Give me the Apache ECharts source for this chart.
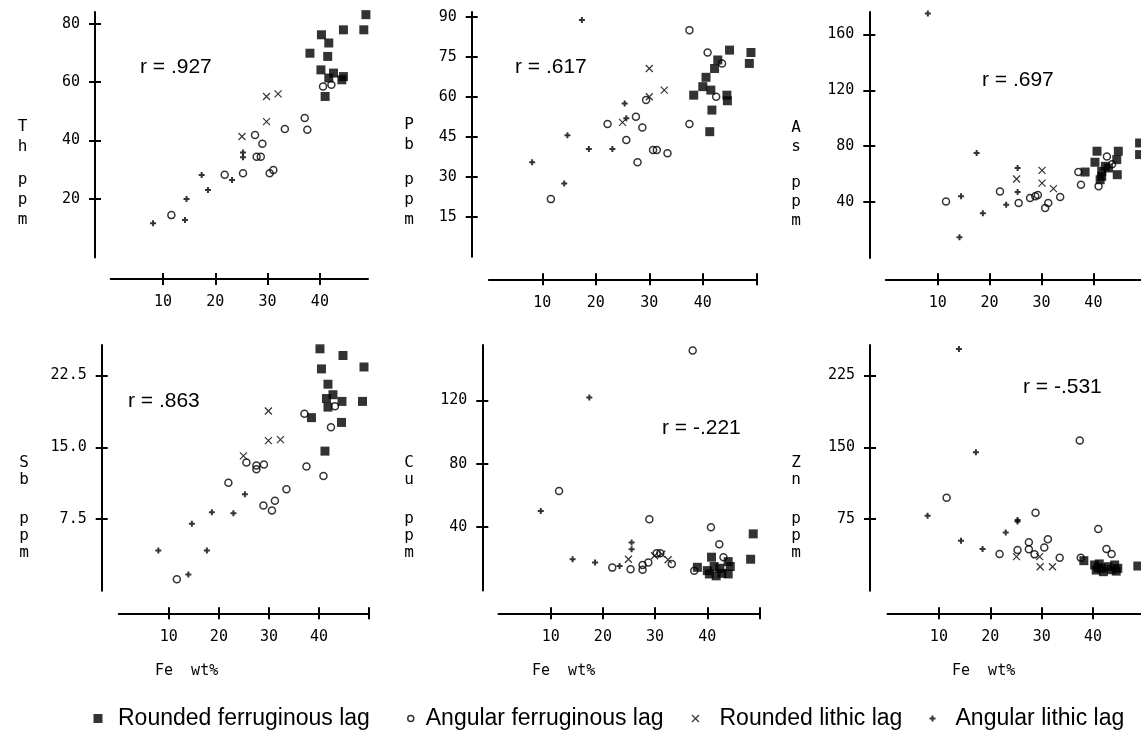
<!DOCTYPE html>
<html><head><meta charset="utf-8">
<script src="https://cdn.jsdelivr.net/npm/echarts@6.0.0/dist/echarts.min.js"></script>
<style>html,body{margin:0;padding:0;background:#fff}#c{width:1141px;height:735px}</style>
</head><body><div id="c"></div>
<script>
// ---------------- DATA ----------------
const seriesNames = ['Rounded ferruginous lag', 'Angular ferruginous lag', 'Rounded lithic lag', 'Angular lithic lag'];
const elementLetters = [['T', 'h'], ['P', 'b'], ['A', 's'], ['S', 'b'], ['C', 'u'], ['Z', 'n']];
const rLabels = ['r = .927', 'r = .617', 'r = .697', 'r = .863', 'r = -.221', 'r = -.531'];
const xAxisTitle = 'Fe  wt%';
const xLabelValues = [10, 20, 30, 40];
const xTickValues = [[10, 20, 30, 40], [10, 20, 30, 40, 50], [10, 20, 30, 40, 50], [10, 20, 30, 40, 50], [10, 20, 30, 40, 50], [10, 20, 30, 40, 50]];
const xMax = [49.2, 50, 50, 50, 50, 50];
const yTickValues = [[20, 40, 60, 80], [15, 30, 45, 60, 75, 90], [40, 80, 120, 160], [7.5, 15, 22.5], [40, 80, 120], [75, 150, 225]];
const yMax = [84, 91.8, 176, 25.7, 155, 257];

// Th ppm vs Fe wt%
const thRF = [[48.8,83.1],[48.4,77.9],[44.5,77.9],[40.3,76.2],[41.7,73.4],[38.1,69.9],[41.5,68.8],[40.2,64.2],[42.6,63.1],[44.5,61.9],[44.2,60.8],[41.7,61.4],[41.0,55.1]];
const thAF = [[40.6,58.5],[42.2,59.1],[37.1,47.7],[37.6,43.7],[33.3,44.0],[27.6,41.9],[29.0,38.9],[27.9,34.5],[28.7,34.5],[25.3,28.8],[21.8,28.3],[30.4,28.8],[31.1,29.9],[11.6,14.5]];
const thRL = [[29.8,55.1],[32.0,56.0],[29.8,46.5],[25.1,41.4]];
const thAL = [[8.1,11.7],[14.5,20],[14.2,12.8],[17.4,28.2],[18.6,23.1],[23.2,26.5],[25.3,35.9],[25.3,34.3]];
// Pb ppm
const pbRF = [[45.0,77.5],[49.0,76.6],[48.7,72.5],[42.8,73.8],[42.2,70.6],[40.6,67.3],[40.0,63.8],[41.5,62.5],[38.3,60.6],[44.5,60.6],[44.6,58.5],[41.7,55.0],[41.3,46.9]];
const pbAF = [[37.5,85],[40.9,76.6],[43.6,72.5],[42.5,60],[37.5,49.8],[29.4,58.8],[27.5,52.5],[28.7,48.5],[22.2,49.8],[25.7,43.8],[27.8,35.4],[30.7,40],[31.4,40],[33.4,38.8],[11.6,21.6]];
const pbRL = [[30.0,70.6],[30.0,60],[32.8,62.5],[25.0,50.4]];
const pbAL = [[17.4,88.8],[8.1,35.4],[14.1,27.5],[14.7,45.6],[18.7,40.4],[23.1,40.4],[25.4,57.5],[25.7,51.9]];
// As ppm
const asRF = [[40.7,76.4],[40.3,68.5],[44.8,76.4],[44.5,70.4],[44.6,59.6],[38.4,61.5],[41.6,62],[42.3,65.6],[42.9,64.4],[41.3,56],[41.6,58.4],[48.9,82.3],[48.9,74]];
const asAF = [[11.6,40.4],[22,47.6],[25.6,39.3],[27.8,42.9],[28.8,44.1],[29.3,45],[30.7,35.7],[31.3,39.3],[33.6,43.6],[37.1,61.5],[37.6,52.4],[41,51.3],[42.6,72.7],[43.6,67]];
const asRL = [[25.2,56.5],[30.1,62.7],[30.1,53.6],[32.3,49.6]];
const asAL = [[8.1,175],[14.5,44.1],[14.2,14.9],[17.5,75.1],[18.7,32.1],[23.2,38.1],[25.4,64.4],[25.4,47.2]];
// Sb ppm
const sbRF = [[40.2,25.3],[44.8,24.6],[49.0,23.4],[40.5,23.2],[41.8,21.6],[42.8,20.5],[41.5,20.1],[44.6,19.8],[48.7,19.8],[41.8,19.2],[38.5,18.1],[44.5,17.6],[41.2,14.6]];
const sbAF = [[43.2,19.3],[37.1,18.5],[42.4,17.1],[37.5,13.0],[40.9,12.0],[25.5,13.4],[27.5,13.1],[27.5,12.7],[29.0,13.2],[21.9,11.3],[33.5,10.6],[31.2,9.4],[28.9,8.9],[30.6,8.4],[11.6,1.2]];
const sbRL = [[29.9,18.8],[29.9,15.7],[32.3,15.8],[24.9,14.1]];
const sbAL = [[7.9,4.2],[14.6,7.0],[13.9,1.7],[17.6,4.2],[18.6,8.2],[22.9,8.1],[25.2,10.1]];
// Cu ppm
const cuRF = [[48.8,35.8],[48.3,19.8],[38.1,14.7],[40.8,21.1],[40.0,12.6],[41.3,15.2],[42.4,14.1],[41.7,9.3],[40.4,10.5],[44.0,18.3],[44.4,15.2],[44.0,10.5],[42.8,10.9]];
const cuAF = [[37.2,151.6],[11.6,62.9],[28.9,45.1],[40.7,40],[42.3,29.3],[43.1,21],[37.5,12.6],[25.3,13.5],[27.6,16.2],[27.6,13.1],[28.7,17.7],[30.3,23.6],[31.0,23.6],[33.2,16.8],[21.8,14.5]];
const cuRL = [[24.9,19.8],[29.9,22],[31.3,23],[32.5,19.5]];
const cuAL = [[8.1,50.3],[14.2,19.8],[17.4,121.9],[18.5,17.7],[23.2,15.6],[25.5,30.3],[25.5,26.1]];
// Zn ppm
const znRF = [[38.2,31.4],[40.3,26.9],[41.6,23.4],[42.9,25.1],[44.2,26.9],[44.8,23.4],[40.6,21.6],[42.0,19.9],[48.7,25.8],[41.2,28],[43.5,22],[44.5,20.5],[41.0,24]];
const znAF = [[37.4,157],[11.5,97.3],[28.8,81.6],[41.0,64.5],[21.8,38.4],[25.3,42.6],[27.5,50.6],[27.5,43.3],[28.6,38],[31.2,53.7],[30.5,45.3],[33.5,34.5],[37.6,34.5],[42.6,43.6],[43.6,38.4]];
const znRL = [[25.1,35.6],[29.6,35.6],[29.7,25.1],[32.1,25.1]];
const znAL = [[13.9,252.9],[7.8,78.5],[17.2,144.8],[14.3,52.3],[18.5,43.6],[23.0,61.0],[25.3,73.9],[25.3,72.5]];

const panelData = [
  [thRF, thAF, thRL, thAL],
  [pbRF, pbAF, pbRL, pbAL],
  [asRF, asAF, asRL, asAL],
  [sbRF, sbAF, sbRL, sbAL],
  [cuRF, cuAF, cuRL, cuAL],
  [znRF, znAF, znRL, znAL]
];

// ---------------- LAYOUT / STYLE ----------------
const panels = [
  {gl:110.7, gt:12,  gw:257.3, gh:245.5, ox:21.5, oy:15.7, rx:140,  ry:67,  nx:22.5, n1:127, n2:180, lh:20},
  {gl:488.8, gt:12,  gw:267.5, gh:244.7, ox:22.6, oy:17.1, rx:515,  ry:67,  nx:409,  n1:125, n2:180, lh:20},
  {gl:885.8, gt:12,  gw:259.5, gh:246,   ox:21.3, oy:16.5, rx:982,  ry:80,  nx:796,  n1:128, n2:183, lh:19},
  {gl:118.8, gt:345, gw:250.2, gh:245.7, ox:22.6, oy:17.1, rx:128,  ry:401, nx:24,   n1:463, n2:519, lh:17},
  {gl:498.5, gt:345, gw:261,   gh:245.6, ox:22.7, oy:16.2, rx:662,  ry:428, nx:409,  n1:463, n2:519, lh:17},
  {gl:887.5, gt:345, gw:257,   gh:245.7, ox:22.6, oy:17.5, rx:1023, ry:387, nx:796,  n1:463, n2:519, lh:17}
];
const feTitlePos = [[155, 671], [532, 671], [952, 671]];

const MONO = '"DejaVu Sans Mono", "Liberation Mono", monospace';
const SANS = '"Liberation Sans", Arial, sans-serif';
const INK = '#000';

const symbolStyles = [
  {symbol: 'rect', symbolSize: 9, itemStyle: {color: INK}},
  {symbol: 'circle', symbolSize: 7, itemStyle: {color: 'rgba(255,255,255,0)', borderColor: INK, borderWidth: 1.5}},
  {symbol: 'path://M0,0L10,10M10,0L0,10', symbolSize: 7, itemStyle: {color: 'none', borderColor: INK, borderWidth: 1.2}},
  {symbol: 'path://M5,0L5,10M0,5L10,5', symbolSize: 6, itemStyle: {color: 'none', borderColor: INK, borderWidth: 2}}
];

const grids = [], xAxes = [], yAxes = [], series = [], graphics = [];
panels.forEach((p, i) => {
  grids.push({left: p.gl, top: p.gt, width: p.gw, height: p.gh, containLabel: false, outerBoundsMode: 'none'});
  const lineStyle = {color: INK, width: 2};
  const fmt = i === 3 ? (v => Number(v).toFixed(1)) : (v => String(v));
  // main x axis (line, outward ticks, labels)
  xAxes.push({
    gridIndex: i, type: 'value', min: 0, max: xMax[i], position: 'bottom', offset: p.ox,
    axisLine: {show: true, onZero: false, lineStyle},
    axisTick: {show: true, inside: false, length: 6, lineStyle, customValues: xTickValues[i]},
    axisLabel: {show: true, customValues: xLabelValues, margin: 16, fontFamily: MONO, fontSize: 15, color: INK},
    splitLine: {show: false}
  });
  // companion x axis (inward ticks) -> crossing ticks
  xAxes.push({
    gridIndex: i, type: 'value', min: 0, max: xMax[i], position: 'bottom', offset: p.ox,
    axisLine: {show: false, onZero: false},
    axisTick: {show: true, inside: true, length: 6, lineStyle, customValues: xTickValues[i]},
    axisLabel: {show: false}, splitLine: {show: false}
  });
  yAxes.push({
    gridIndex: i, type: 'value', min: 0, max: yMax[i], position: 'left', offset: p.oy,
    axisLine: {show: true, onZero: false, lineStyle},
    axisTick: {show: true, inside: false, length: 6, lineStyle, customValues: yTickValues[i]},
    axisLabel: {show: true, customValues: yTickValues[i], formatter: fmt, margin: 15, fontFamily: MONO, fontSize: 15, color: INK},
    splitLine: {show: false}
  });
  yAxes.push({
    gridIndex: i, type: 'value', min: 0, max: yMax[i], position: 'left', offset: p.oy,
    axisLine: {show: false, onZero: false},
    axisTick: {show: true, inside: true, length: 6, lineStyle, customValues: yTickValues[i]},
    axisLabel: {show: false}, splitLine: {show: false}
  });
  panelData[i].forEach((d, s) => {
    series.push(Object.assign({
      type: 'scatter', name: seriesNames[s], xAxisIndex: 2 * i, yAxisIndex: 2 * i,
      data: d, animation: false, silent: true, clip: false
    }, JSON.parse(JSON.stringify(symbolStyles[s]))));
  });
  // correlation label
  graphics.push({type: 'text', x: p.rx, y: p.ry, silent: true,
    style: {text: rLabels[i], font: '21px ' + SANS, fill: INK, align: 'left', verticalAlign: 'middle', textAlign: 'left', textVerticalAlign: 'middle'}});
  // vertical y-axis name: element symbol, then "ppm"
  graphics.push({type: 'text', x: p.nx, y: p.n1 - p.lh / 2, silent: true,
    style: {text: elementLetters[i].join('\n'), font: '16px ' + MONO, lineHeight: p.lh, fill: INK, align: 'center', verticalAlign: 'top', textAlign: 'center', textVerticalAlign: 'top'}});
  graphics.push({type: 'text', x: p.nx, y: p.n2 - p.lh / 2, silent: true,
    style: {text: 'p\np\nm', font: '16px ' + MONO, lineHeight: p.lh, fill: INK, align: 'center', verticalAlign: 'top', textAlign: 'center', textVerticalAlign: 'top'}});
});
feTitlePos.forEach(([x, y]) => {
  graphics.push({type: 'text', x: x, y: y, silent: true,
    style: {text: xAxisTitle, font: '15px ' + MONO, fill: INK, align: 'left', verticalAlign: 'middle', textAlign: 'left', textVerticalAlign: 'middle'}});
});

// legends: one per item so each sits where the reference shows it
const legendLayout = [
  {left: 93.5, w: 9, h: 9, pad: 10.5},
  {left: 407, w: 6, h: 6, pad: 7},
  {left: 689.5, w: 7, h: 7, pad: 15.5},
  {left: 927, w: 6, h: 6, pad: 15}
];
const legends = legendLayout.map((l, s) => ({
  left: l.left, top: 707, padding: 0, orient: 'horizontal', selectedMode: false,
  itemWidth: l.w, itemHeight: l.h,
  data: [{name: seriesNames[s], icon: symbolStyles[s].symbol, itemStyle: symbolStyles[s].itemStyle}],
  textStyle: {fontFamily: SANS, fontSize: 23, color: INK, padding: [0, 0, 0, l.pad]}
}));

const chart = echarts.init(document.getElementById('c'), null, {renderer: 'canvas'});
chart.setOption({
  backgroundColor: '#fff',
  animation: false,
  grid: grids, xAxis: xAxes, yAxis: yAxes, series: series,
  legend: legends,
  graphic: graphics
});
</script>
</body></html>
